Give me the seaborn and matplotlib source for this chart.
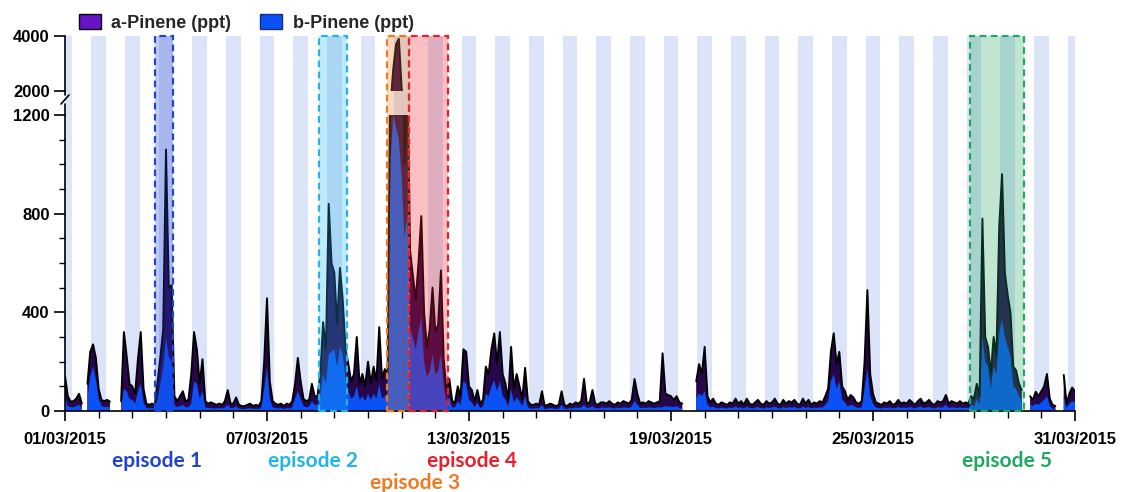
import numpy as np
import pandas as pd
import matplotlib
matplotlib.use("Agg")
import matplotlib.pyplot as plt
import matplotlib.dates as mdates
from matplotlib.patches import Rectangle, Patch
from matplotlib.lines import Line2D
from matplotlib.ticker import MultipleLocator
from matplotlib.transforms import blended_transform_factory
import seaborn as sns

nan = np.nan

# ---------------- data (2-hourly, 01/03/2015 00:00 -> 31/03/2015 00:00) ----------------
start_time = "2015-03-01 00:00"
step = "2h"

a_pinene = [
    142, 60, 38, 40, 50, 70, 30, nan, 110, 240, 270, 215,          # 01/03
    90, 45, 40, 45, 38, nan, nan, nan, 40, 320, 220, 110,          # 02/03
    100, 70, 210, 320, 90, 30, 25, 30, 25, 120, 220, 330,          # 03/03
    1060, 500, 510, 60, 40, 60, 80, 40, 45, 150, 320, 250,         # 04/03
    110, 210, 40, 30, 35, 30, 25, 30, 25, 40, 85, 30,              # 05/03
    30, 55, 25, 20, 20, 25, 30, 20, 25, 20, 40, 200,               # 06/03
    457, 120, 40, 30, 25, 30, 20, 30, 25, 40, 110, 215,            # 07/03
    120, 50, 40, 45, 110, 60, 60, 150, 360, 250, 840, 600,         # 08/03
    560, 350, 580, 450, 250, 190, 120, 150, 300, 110, 150, 100,    # 09/03
    200, 110, 180, 120, 340, 130, 170, 150, 1500, 2800, 3700, 3900,  # 10/03
    2100, 1000, 1400, 650, 550, 450, 600, 790, 400, 260, 330, 500,   # 11/03
    320, 350, 570, 210, 80, 130, 40, 35, 100, 60, 250, 240,        # 12/03
    100, 85, 40, 85, 30, 45, 180, 150, 250, 315, 190, 320,         # 13/03
    150, 110, 45, 260, 90, 150, 100, 50, 175, 40, 25, 25,          # 14/03
    30, 25, 80, 20, 25, 30, 25, 20, 25, 80, 25, 20,                # 15/03
    30, 25, 35, 30, 40, 130, 30, 35, 85, 30, 25, 35,               # 16/03
    35, 30, 40, 30, 25, 35, 30, 40, 35, 30, 45, 130,               # 17/03
    70, 30, 35, 30, 40, 35, 30, 35, 40, 234, 70, 65,               # 18/03
    60, 45, 60, 35, 30, nan, nan, nan, nan, 120, 190, 150,         # 19/03
    260, 60, 35, 50, 30, 25, 35, 30, 25, 35, 30, 50,               # 20/03
    30, 40, 25, 50, 30, 25, 35, 45, 30, 25, 40, 30,                # 21/03
    35, 50, 30, 25, 45, 30, 40, 35, 45, 30, 25, 50,                # 22/03
    30, 45, 25, 35, 30, 40, 35, 60, 90, 240, 315, 190,             # 23/03
    240, 100, 80, 45, 65, 55, 35, 30, 40, 200, 490, 150,           # 24/03
    70, 35, 30, 25, 35, 30, 40, 25, 30, 45, 30, 35,                # 25/03
    30, 45, 35, 25, 40, 50, 30, 35, 45, 30, 25, 40,                # 26/03
    35, 40, 65, 30, 40, 35, 30, 40, 30, 35, 30, 60,                # 27/03
    50, 110, 60, 780, 300, 260, 150, 300, 230, 750, 960, 560,      # 28/03
    470, 400, 180, 165, 112, 85, nan, nan, 60, 45, 78, 60,         # 29/03
    80, 100, 150, 50, 25, 20, nan, nan, 146, 30, 70, 95,           # 30/03
    80,                                                            # 31/03
]

b_pinene = [
    60, 20, 15, 15, 20, 25, 12, nan, 50, 140, 180, 130,
    50, 20, 15, 18, 15, nan, nan, nan, 15, 90, 80, 50,
    45, 30, 80, 110, 35, 12, 10, 12, 10, 50, 110, 180,
    300, 220, 200, 25, 15, 20, 25, 15, 15, 30, 120, 110,
    50, 80, 15, 12, 12, 10, 10, 12, 10, 15, 25, 12,
    12, 18, 10, 8, 8, 10, 12, 8, 10, 8, 15, 90,
    180, 50, 15, 12, 10, 12, 8, 12, 10, 15, 50, 80,
    50, 20, 15, 18, 40, 25, 25, 60, 150, 110, 230, 240,
    250, 180, 260, 230, 130, 80, 50, 60, 100, 45, 60, 40,
    70, 45, 70, 50, 110, 50, 60, 60, 1000, 1200, 1150, 1100,
    950, 700, 800, 330, 300, 250, 320, 380, 200, 140, 160, 230,
    150, 160, 230, 100, 35, 55, 15, 15, 40, 25, 120, 110,
    45, 35, 15, 35, 12, 18, 70, 60, 100, 125, 80, 120,
    60, 45, 18, 90, 35, 55, 40, 20, 60, 15, 10, 10,
    12, 10, 25, 8, 10, 12, 10, 8, 10, 25, 10, 8,
    12, 10, 14, 12, 15, 25, 12, 14, 20, 12, 10, 14,
    14, 12, 15, 12, 10, 14, 12, 15, 14, 12, 18, 40,
    25, 12, 14, 12, 15, 14, 12, 14, 15, 15, 20, 18,
    18, 15, 20, 12, 10, nan, nan, nan, nan, 50, 70, 60,
    80, 25, 14, 18, 12, 10, 14, 12, 10, 14, 12, 18,
    12, 15, 10, 18, 12, 10, 14, 16, 12, 10, 15, 12,
    14, 18, 12, 10, 16, 12, 15, 14, 16, 12, 10, 18,
    12, 16, 10, 14, 12, 15, 14, 25, 40, 120, 150, 90,
    120, 45, 35, 18, 25, 22, 14, 12, 15, 90, 170, 60,
    30, 14, 12, 10, 14, 12, 15, 10, 12, 16, 12, 14,
    12, 16, 14, 10, 15, 18, 12, 14, 16, 12, 10, 15,
    14, 15, 25, 12, 15, 14, 12, 15, 12, 14, 12, 25,
    20, 50, 25, 300, 200, 180, 90, 180, 150, 320, 370, 300,
    260, 220, 100, 90, 60, 40, nan, nan, 25, 20, 30, 25,
    35, 45, 60, 20, 10, 8, nan, nan, 60, 12, 30, 40,
    35,
]

series_labels = ["a-Pinene (ppt)", "b-Pinene (ppt)"]

episode_names = ["episode 1", "episode 2", "episode 3", "episode 4", "episode 5"]
episode_start = ["2015-03-03 16:30", "2015-03-08 13:00", "2015-03-10 13:30",
                 "2015-03-11 05:15", "2015-03-27 21:30"]
episode_end = ["2015-03-04 05:00", "2015-03-09 09:00", "2015-03-11 05:15",
               "2015-03-12 09:00", "2015-03-29 11:30"]
episode_colors = ["#1f44d0", "#22b4e6", "#f07a22", "#e8202a", "#1ea860"]
# label anchor (date) below axis
episode_label_at = ["2015-03-03 17:30", "2015-03-08 09:00", "2015-03-11 09:30",
                    "2015-03-13 02:00", "2015-03-28 23:30"]

night_half_width_h = 5.3   # hours either side of midnight shaded

x_start, x_end = "2015-03-01 00:00", "2015-03-31 00:00"
y_low_ticks = [0, 400, 800, 1200]
y_high_ticks = [2000, 4000]

# ---------------- styling ----------------
PURPLE = "#6a12c8"
BLUE = "#0a52f5"
NIGHT = "#dce4fa"

sns.set_theme(style="ticks")
plt.rcParams['font.family'] = ['Liberation Sans', 'DejaVu Sans']
plt.rcParams['font.weight'] = 'bold'

W, H = 1121, 492
fig = plt.figure(figsize=(W / 100, H / 100), dpi=100)

def fx(px):
    return px / W

def fy(py):
    return 1 - py / H

L, R = 65, 1075
Y0, Y1200, Y2000, Y4000 = 411, 115, 91, 36

ax_bg = fig.add_axes([fx(L), fy(Y0), fx(R - L), (Y0 - Y4000) / H], zorder=0)
ax_lo = fig.add_axes([fx(L), fy(Y0), fx(R - L), (Y0 - Y1200) / H], zorder=1)
ax_hi = fig.add_axes([fx(L), fy(Y2000), fx(R - L), (Y2000 - Y4000) / H], zorder=1)
ax_ov = fig.add_axes([fx(L), fy(Y0), fx(R - L), (Y0 - Y4000) / H], zorder=2)

t0, t1 = pd.Timestamp(x_start), pd.Timestamp(x_end)
times = pd.date_range(start_time, periods=len(a_pinene), freq=step)
df = pd.DataFrame({"time": times, "a": a_pinene, "b": b_pinene})
df["seg"] = df["a"].isna().cumsum()
df_line = df.dropna(subset=["a"])

# night stripes
ax_bg.set_xlim(t0, t1)
ax_bg.set_ylim(0, 1)
ax_bg.axis("off")
for d in pd.date_range(t0, t1, freq="D"):
    ax_bg.axvspan(d - pd.Timedelta(hours=night_half_width_h),
                  d + pd.Timedelta(hours=night_half_width_h),
                  color=NIGHT, lw=0)

for ax in (ax_lo, ax_hi):
    ax.set_facecolor("none")
    ax.fill_between(df["time"], 0, df["a"], color=PURPLE, lw=0)
    ax.fill_between(df["time"], 0, df["a"], color="black", alpha=0.62, lw=0)
    ax.fill_between(df["time"], 0, df["b"], color=BLUE, lw=0)
    sns.lineplot(data=df_line, x="time", y="a", units="seg", estimator=None,
                 color="black", lw=1.4, ax=ax, legend=False)
    ax.set_xlim(t0, t1)
    ax.set_xlabel("")
    ax.set_ylabel("")
    for s in ("top", "right"):
        ax.spines[s].set_visible(False)
    ax.spines["left"].set_color("black")
    ax.spines["left"].set_linewidth(1.2)
    ax.tick_params(axis="y", which="major", direction="out", length=8, width=1.2,
                   colors="black", labelsize=12, pad=3)

ax_lo.set_ylim(0, 1200)
ax_lo.set_yticks(y_low_ticks)
ax_lo.yaxis.set_minor_locator(MultipleLocator(100))
ax_lo.tick_params(axis="y", which="minor", direction="out", length=4, width=1.0, colors="black")
ax_lo.spines["bottom"].set_color("black")
ax_lo.spines["bottom"].set_linewidth(1.2)
ax_lo.xaxis.set_major_locator(mdates.DayLocator(bymonthday=[1, 7, 13, 19, 25, 31]))
ax_lo.xaxis.set_major_formatter(mdates.DateFormatter("%d/%m/%Y"))
ax_lo.xaxis.set_minor_locator(mdates.DayLocator())
ax_lo.tick_params(axis="x", which="major", direction="out", length=7, width=1.2,
                  colors="black", labelsize=12, pad=8)
ax_lo.tick_params(axis="x", which="minor", direction="out", length=5, width=1.0, colors="black")

ax_hi.set_ylim(2000, 4000)
ax_hi.set_yticks(y_high_ticks)
ax_hi.spines["bottom"].set_visible(False)
ax_hi.tick_params(axis="x", which="both", bottom=False, labelbottom=False)

# episode boxes (overlay)
ax_ov.set_xlim(t0, t1)
ax_ov.set_ylim(0, 1)
ax_ov.axis("off")
for s, e, c in zip(episode_start, episode_end, episode_colors):
    x0 = mdates.date2num(pd.Timestamp(s))
    x1 = mdates.date2num(pd.Timestamp(e))
    ax_ov.add_patch(Rectangle((x0, 0), x1 - x0, 1, facecolor=c, alpha=0.28,
                              edgecolor="none"))
    ax_ov.add_patch(Rectangle((x0, 0), x1 - x0, 1, facecolor="none", edgecolor=c,
                              lw=1.6, ls=(0, (3, 2)), clip_on=False))

# episode labels
tr = blended_transform_factory(ax_lo.transData, fig.transFigure)
label_y = [461, 461, 483, 461, 461]
for name, at, c, py in zip(episode_names, episode_label_at, episode_colors, label_y):
    ax_lo.text(mdates.date2num(pd.Timestamp(at)), fy(py), name, transform=tr,
               ha="center", va="center", color=c, fontsize=15, fontweight="bold",
               family=["Lato", "DejaVu Sans"], clip_on=False)

# broken-axis marks
def fig_line(pts, **kw):
    xs = [fx(p[0]) for p in pts]
    ys = [fy(p[1]) for p in pts]
    fig.add_artist(Line2D(xs, ys, transform=fig.transFigure, color="black", lw=1.2, **kw))

fig_line([(L, Y2000), (L, 95)])
fig_line([(61, 104), (69, 95)])
fig_line([(L, 104), (L, Y1200)])

# legend
handles = [Patch(facecolor=PURPLE, edgecolor="black", lw=1.0),
           Patch(facecolor=BLUE, edgecolor="#1a2a80", lw=1.0)]
fig.legend(handles, series_labels, loc="upper left", bbox_to_anchor=(fx(68), fy(3)),
           ncol=2, frameon=False, prop={"size": 13, "weight": "bold"},
           handlelength=1.2, handleheight=0.9, handletextpad=0.6, columnspacing=1.6,
           borderpad=0.1)

fig.savefig("out.png", dpi=100)
